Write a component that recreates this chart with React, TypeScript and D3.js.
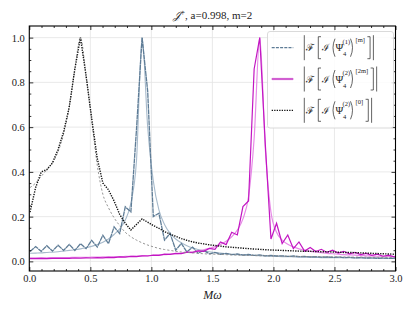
import React, { useEffect, useRef } from 'react';
import * as d3 from 'd3';

const W = 415;
const H = 312;
const margin = { top: 26, right: 19.5, bottom: 41, left: 29.3 };

// FFT frequency grid (M omega)
const freqStart = 0.006;
const freqStep = 0.0459;

// |F[I(Psi4^(2))^[0]]| raw (black dotted) and fit (grey dashed)
const blackRaw = [
  0.22, 0.33, 0.40, 0.41, 0.44, 0.50, 0.58, 0.69, 0.86, 1.00,
  0.83, 0.64, 0.46, 0.35, 0.32, 0.27, 0.21, 0.17, 0.14, 0.165,
  0.19, 0.175, 0.16, 0.148, 0.133, 0.122, 0.112, 0.102, 0.094, 0.087,
  0.082, 0.078, 0.074, 0.071, 0.068, 0.065, 0.063, 0.061, 0.059, 0.057,
  0.055, 0.054, 0.052, 0.051, 0.05, 0.049, 0.048, 0.047, 0.046, 0.045,
  0.045, 0.044, 0.043, 0.043, 0.042, 0.041, 0.04, 0.04, 0.039, 0.038,
  0.037, 0.036, 0.035, 0.034, 0.033, 0.032, 0.031,
];
const blackFit = [
  0.33, 0.35, 0.38, 0.41, 0.44, 0.49, 0.57, 0.69, 0.86, 1.0,
  0.83, 0.63, 0.43, 0.30, 0.24, 0.195, 0.16, 0.13, 0.11, 0.095,
  0.083, 0.073, 0.065, 0.058, 0.053, 0.049, 0.045, 0.042, 0.04, 0.038,
  0.036, 0.034, 0.033, 0.032, 0.031, 0.03, 0.029, 0.028, 0.027, 0.027,
  0.026, 0.025, 0.025, 0.024, 0.024, 0.023, 0.023, 0.022, 0.022, 0.022,
  0.021, 0.021, 0.021, 0.02, 0.02, 0.02, 0.02, 0.019, 0.019, 0.019,
  0.019, 0.018, 0.018, 0.018, 0.018, 0.018, 0.017,
];

// |F[I(Psi4^(1))^[m]]| raw (slate) and fit (light slate)
const blueRaw = [
  0.044, 0.066, 0.045, 0.07, 0.046, 0.072, 0.049, 0.076, 0.049, 0.079,
  0.057, 0.094, 0.064, 0.117, 0.079, 0.154, 0.124, 0.244, 0.221, 0.59,
  1.0, 0.76, 0.2, 0.215, 0.095, 0.125, 0.05, 0.08, 0.042, 0.064,
  0.037, 0.049, 0.034, 0.04, 0.032, 0.036, 0.03, 0.033, 0.028, 0.031,
  0.027, 0.029, 0.025, 0.027, 0.024, 0.025, 0.022, 0.024, 0.021, 0.022,
  0.02, 0.021, 0.019, 0.02, 0.018, 0.019, 0.017, 0.018, 0.016, 0.017,
  0.015, 0.016, 0.014, 0.015, 0.013, 0.014, 0.012,
];
const blueFit = [
  0.036, 0.037, 0.038, 0.04, 0.041, 0.043, 0.046, 0.049, 0.052, 0.056,
  0.061, 0.067, 0.075, 0.086, 0.1, 0.12, 0.145, 0.185, 0.26, 0.45,
  1.0, 0.6, 0.36, 0.23, 0.165, 0.125, 0.1, 0.083, 0.07, 0.06,
  0.053, 0.047, 0.043, 0.04, 0.037, 0.034, 0.032, 0.03, 0.029, 0.027,
  0.026, 0.025, 0.024, 0.023, 0.022, 0.021, 0.021, 0.02, 0.019, 0.019,
  0.018, 0.018, 0.017, 0.017, 0.017, 0.016, 0.016, 0.016, 0.015, 0.015,
  0.015, 0.014, 0.014, 0.014, 0.014, 0.013, 0.013,
];

// |F[I(Psi4^(2))^[2m]]| raw (magenta) and fit (light magenta)
const magentaRaw = [
  0.012, 0.012, 0.013, 0.012, 0.013, 0.013, 0.014, 0.013, 0.015, 0.014,
  0.016, 0.015, 0.017, 0.016, 0.018, 0.017, 0.02, 0.019, 0.022, 0.021,
  0.025, 0.024, 0.028, 0.027, 0.032, 0.031, 0.036, 0.035, 0.041, 0.039,
  0.047, 0.045, 0.058, 0.054, 0.087, 0.075, 0.13, 0.118, 0.245, 0.27,
  0.86, 1.0, 0.52, 0.1, 0.17, 0.08, 0.118, 0.057, 0.087, 0.046,
  0.062, 0.044, 0.054, 0.04, 0.05, 0.037, 0.045, 0.034, 0.04, 0.03,
  0.036, 0.027, 0.032, 0.023, 0.028, 0.02, 0.024,
];
const magentaFit = [
  0.016, 0.016, 0.016, 0.016, 0.017, 0.017, 0.017, 0.017, 0.018, 0.018,
  0.018, 0.019, 0.019, 0.02, 0.02, 0.021, 0.021, 0.022, 0.023, 0.024,
  0.025, 0.026, 0.027, 0.029, 0.03, 0.032, 0.034, 0.037, 0.04, 0.043,
  0.047, 0.052, 0.058, 0.066, 0.076, 0.09, 0.11, 0.14, 0.19, 0.29,
  0.55, 1.0, 0.5, 0.22, 0.13, 0.095, 0.077, 0.065, 0.056, 0.05,
  0.045, 0.042, 0.039, 0.036, 0.034, 0.032, 0.03, 0.029, 0.028, 0.026,
  0.025, 0.024, 0.023, 0.023, 0.022, 0.021, 0.021,
];

const xTicks = [0, 0.5, 1.0, 1.5, 2.0, 2.5, 3.0];
const yTicks = [0, 0.2, 0.4, 0.6, 0.8, 1.0];
const legendSup = ['(1)', '(2)', '(2)'];
const legendMode = ['[m]', '[2m]', '[0]'];

const serif = 'Liberation Serif';
const mathFont = 'DejaVu Serif';

const App = () => {
  const ref = useRef<SVGSVGElement>(null);

  useEffect(() => {
    const svg = d3.select(ref.current);
    svg.selectAll('*').remove();

    const x = d3.scaleLinear().domain([0, 3]).range([margin.left, W - margin.right]);
    const y = d3.scaleLinear().domain([-0.043, 1.052]).range([H - margin.bottom, margin.top]);
    const x0 = margin.left, x1 = W - margin.right, y0 = H - margin.bottom, y1 = margin.top;

    const freq = blackRaw.map((_, k) => freqStart + k * freqStep);

    svg.append('defs').append('clipPath').attr('id', 'plotclip')
      .append('rect').attr('x', x0).attr('y', y1).attr('width', x1 - x0).attr('height', y0 - y1);

    // grid
    const grid = svg.append('g').attr('stroke', '#e3e3e3').attr('stroke-width', 0.8);
    grid.selectAll('.gx').data(xTicks).join('line')
      .attr('x1', d => x(d)).attr('x2', d => x(d)).attr('y1', y1).attr('y2', y0);
    grid.selectAll('.gy').data(yTicks).join('line')
      .attr('y1', d => y(d)).attr('y2', d => y(d)).attr('x1', x0).attr('x2', x1);

    const plot = svg.append('g').attr('clip-path', 'url(#plotclip)').attr('fill', 'none');
    const raw = d3.line<number>().x((_, i) => x(freq[i])).y(d => y(d));
    const smooth = d3.line<number>().x((_, i) => x(freq[i])).y(d => y(d)).curve(d3.curveMonotoneX);

    const series = [
      { data: blueFit, gen: smooth, color: '#a7bacb', width: 1.1, dash: null },
      { data: blueRaw, gen: raw, color: '#5e7c96', width: 1.3, dash: '5,0.5' },
      { data: magentaFit, gen: smooth, color: '#e78ae7', width: 1.2, dash: null },
      { data: magentaRaw, gen: raw, color: '#c216c2', width: 1.2, dash: null },
      { data: blackFit, gen: smooth, color: '#8a8a8a', width: 0.9, dash: '2.2,2' },
      { data: blackRaw, gen: raw, color: '#111', width: 1.4, dash: '1.3,1.2' },
    ];
    series.forEach(s => {
      plot.append('path')
        .attr('d', s.gen(s.data))
        .attr('stroke', s.color)
        .attr('stroke-width', s.width)
        .attr('stroke-dasharray', s.dash);
    });

    // axes with inward ticks
    const xMinor = d3.range(0, 3.001, 0.1).filter(v => Math.abs(v * 2 - Math.round(v * 2)) > 1e-6);
    const yMinor = d3.range(0, 1.0001, 0.05).filter(v => Math.abs(v * 5 - Math.round(v * 5)) > 1e-6);

    const styleAxis = (g) => {
      g.attr('font-family', serif);
      g.select('.domain').remove();
      g.selectAll('line').attr('stroke', '#000').attr('stroke-width', 0.8);
      g.selectAll('text').style('font-family', serif).attr('font-size', 10.5).attr('fill', '#222');
    };

    svg.append('g').attr('transform', `translate(0,${y0})`)
      .call(d3.axisBottom(x).tickValues(xTicks).tickFormat(d3.format('.1f')).tickSize(-4).tickPadding(4))
      .call(styleAxis);
    svg.append('g').attr('transform', `translate(0,${y0})`)
      .call(d3.axisBottom(x).tickValues(xMinor).tickFormat(() => '').tickSize(-2))
      .call(styleAxis);
    svg.append('g').attr('transform', `translate(0,${y1})`)
      .call(d3.axisTop(x).tickValues(xTicks).tickFormat(() => '').tickSize(-4))
      .call(styleAxis);
    svg.append('g').attr('transform', `translate(0,${y1})`)
      .call(d3.axisTop(x).tickValues(xMinor).tickFormat(() => '').tickSize(-2))
      .call(styleAxis);
    svg.append('g').attr('transform', `translate(${x0},0)`)
      .call(d3.axisLeft(y).tickValues(yTicks).tickFormat(d3.format('.1f')).tickSize(-4).tickPadding(4.5))
      .call(styleAxis);
    svg.append('g').attr('transform', `translate(${x0},0)`)
      .call(d3.axisLeft(y).tickValues(yMinor).tickFormat(() => '').tickSize(-2))
      .call(styleAxis);
    svg.append('g').attr('transform', `translate(${x1},0)`)
      .call(d3.axisRight(y).tickValues(yTicks).tickFormat(() => '').tickSize(-4))
      .call(styleAxis);
    svg.append('g').attr('transform', `translate(${x1},0)`)
      .call(d3.axisRight(y).tickValues(yMinor).tickFormat(() => '').tickSize(-2))
      .call(styleAxis);

    svg.append('rect')
      .attr('x', x0).attr('y', y1).attr('width', x1 - x0).attr('height', y0 - y1)
      .attr('fill', 'none').attr('stroke', '#000').attr('stroke-width', 1.1);

    // axis label
    svg.append('text')
      .attr('x', (x0 + x1) / 2).attr('y', 299)
      .attr('text-anchor', 'middle')
      .style('font-family', serif).attr('font-size', 12).attr('font-style', 'italic')
      .attr('fill', '#222')
      .text('Mω');

    // title
    const title = svg.append('text')
      .attr('x', (x0 + x1) / 2).attr('y', 18.5)
      .attr('text-anchor', 'middle')
      .style('font-family', serif).attr('font-size', 11).attr('fill', '#222');
    title.append('tspan').style('font-family', mathFont).attr('font-style', 'italic').text('𝒥');
    title.append('tspan').attr('font-size', 8).attr('dy', -4).text('+');
    title.append('tspan').attr('dy', 4).text(', a=0.998, m=2');

    // legend
    const leg = svg.append('g');
    leg.append('rect')
      .attr('x', 267.5).attr('y', 31.5).attr('width', 126).attr('height', 96.5)
      .attr('rx', 2.5)
      .attr('fill', 'rgba(255,255,255,0.85)').attr('stroke', '#d6d6d6').attr('stroke-width', 0.9);

    const handles = [
      { color: '#5e7c96', width: 1.3, dash: '3,1.2' },
      { color: '#d15fd1', width: 2.2, dash: null },
      { color: '#111', width: 1.3, dash: '1.3,1.2' },
    ];
    const cys = [47.7, 79, 110.3];

    handles.forEach((h, i) => {
      const cy = cys[i];
      leg.append('line')
        .attr('x1', 271.7).attr('x2', 293.3).attr('y1', cy).attr('y2', cy)
        .attr('stroke', h.color).attr('stroke-width', h.width).attr('stroke-dasharray', h.dash);

      const f = leg.append('g').attr('fill', '#222').attr('stroke', 'none');
      const strokeG = leg.append('g').attr('fill', 'none').attr('stroke', '#222').attr('stroke-width', 0.7);
      // left bar
      strokeG.append('line').attr('x1', 304.3).attr('x2', 304.3).attr('y1', cy - 12.5).attr('y2', cy + 12.5);
      f.append('text').attr('x', 306.3).attr('y', cy + 3.5)
        .style('font-family', mathFont).attr('font-size', 10).text('ℱ');
      strokeG.append('path').attr('d', `M321,${cy - 11}H318.3V${cy + 11}H321`);
      f.append('text').attr('x', 322.3).attr('y', cy + 3.5)
        .style('font-family', mathFont).attr('font-size', 10).text('ℐ');
      strokeG.append('path').attr('d', `M335,${cy - 9}Q331,${cy} 335,${cy + 9}`);
      f.append('text').attr('x', 335.6).attr('y', cy + 3.5)
        .style('font-family', serif).attr('font-size', 10.5).text('Ψ');
      f.append('text').attr('x', 342.6).attr('y', cy - 4)
        .style('font-family', serif).attr('font-size', 6.5).text(legendSup[i]);
      f.append('text').attr('x', 343).attr('y', cy + 8.5)
        .style('font-family', serif).attr('font-size', 6.5).text('4');
      strokeG.append('path').attr('d', `M350.5,${cy - 9}Q354.5,${cy} 350.5,${cy + 9}`);
      const sup = f.append('text').attr('x', 355.5).attr('y', cy - 6)
        .style('font-family', serif).attr('font-size', 6.5).text(legendMode[i]);
      const supEnd = 355.5 + (sup.node() as SVGTextElement).getComputedTextLength();
      const bx = supEnd + 2.5;
      strokeG.append('path').attr('d', `M${bx},${cy - 11}H${bx + 2.7}V${cy + 11}H${bx}`);
      strokeG.append('line').attr('x1', bx + 6).attr('x2', bx + 6).attr('y1', cy - 12.5).attr('y2', cy + 12.5);
    });
  }, []);

  return (
    <svg
      ref={ref}
      width={W}
      height={H}
      style={{ position: 'absolute', left: 0, top: 0, background: '#fff' }}
    />
  );
};

export default App;
